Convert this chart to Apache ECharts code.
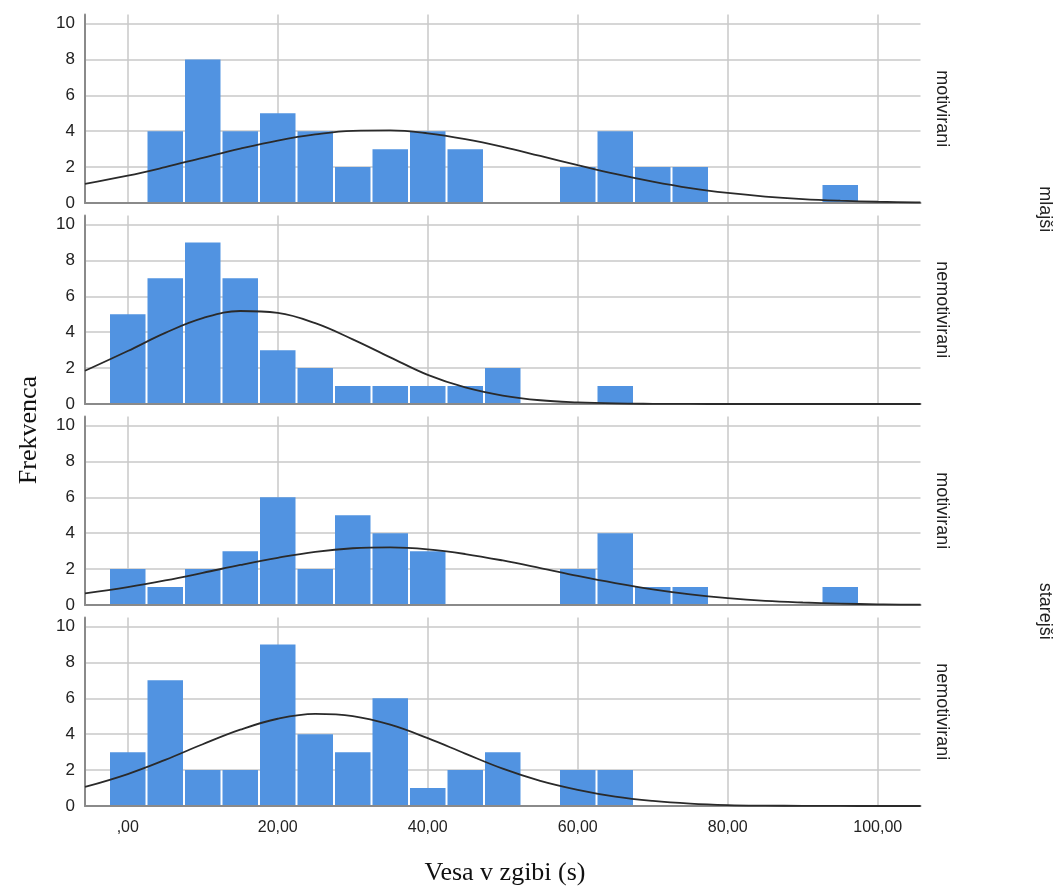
<!DOCTYPE html>
<html>
<head>
<meta charset="utf-8">
<script src="https://cdn.jsdelivr.net/npm/echarts@6/dist/echarts.min.js"></script>
<style>
html,body{margin:0;padding:0;background:#fff;}
#chart{width:1063px;height:891px;}
</style>
</head>
<body>
<div id="chart"></div>
<script>
// Bin centres (width 5)
const binCenters = [0,5,10,15,20,25,30,35,40,45,50,55,60,65,70,75,80,85,90,95,100];
// Frequencies per panel
const countsMlajsiMot    = [0,4,8,4,5,4,2,3,4,3,0,0,2,4,2,2,0,0,0,1,0];
const countsMlajsiNemot  = [5,7,9,7,3,2,1,1,1,1,2,0,0,1,0,0,0,0,0,0,0];
const countsStarejsiMot  = [2,1,2,3,6,2,5,4,3,0,0,0,2,4,1,1,0,0,0,1,0];
const countsStarejsiNemot= [3,7,2,2,9,4,3,6,1,2,3,0,2,2,0,0,0,0,0,0,0];
// Normal curve heights read at these x positions
const curveX = [-5.7,0,5,10,15,20,25,30,35,40,45,50,55,60,65,70,75,80,85,90,95,100,105,105.7];
const curveMlajsiMot    = [1.06,1.52,2.00,2.52,3.03,3.48,3.82,4.02,4.04,3.88,3.56,3.13,2.62,2.11,1.62,1.19,0.83,0.56,0.36,0.22,0.13,0.07,0.04,0.035];
const curveMlajsiNemot  = [1.85,2.95,3.96,4.78,5.18,5.07,4.50,3.60,2.60,1.62,0.92,0.47,0.21,0.09,0.03,0.01,0.003,0,0,0,0,0,0,0];
const curveStarejsiMot  = [0.65,1.00,1.37,1.79,2.23,2.63,2.96,3.16,3.21,3.10,2.84,2.48,2.06,1.62,1.22,0.87,0.59,0.38,0.23,0.14,0.08,0.04,0.02,0.02];
const curveStarejsiNemot= [1.06,1.78,2.57,3.44,4.25,4.86,5.13,5.01,4.53,3.78,2.92,2.08,1.40,0.90,0.52,0.28,0.13,0.05,0.02,0.01,0.003,0,0,0];
// Labels
const panelLabels = ['motivirani','nemotivirani','motivirani','nemotivirani'];
const groupLabels = ['mlajši','starejši'];
const xTitle = 'Vesa v zgibi (s)';
const yTitle = 'Frekvenca';
const yTicks = [0,2,4,6,8,10];

const panels = [
  {counts: countsMlajsiMot, curve: curveMlajsiMot},
  {counts: countsMlajsiNemot, curve: curveMlajsiNemot},
  {counts: countsStarejsiMot, curve: curveStarejsiMot},
  {counts: countsStarejsiNemot, curve: curveStarejsiNemot}
];

const tops = [14.5, 215.5, 416.5, 617.5];
const gridH = 188.5;
const gridLeft = 85, gridRight = 142.5;
const sans = '"Liberation Sans", Arial, sans-serif';
const serif = '"Liberation Serif", "Times New Roman", serif';

const grids = [], xAxes = [], yAxes = [], series = [], graphics = [];
panels.forEach((p, i) => {
  grids.push({left: gridLeft, right: gridRight, top: tops[i], height: gridH});
  xAxes.push({
    type: 'value', gridIndex: i, min: -5.7, max: 105.7, splitNumber: 5,
    axisLine: {show: true, onZero: false, lineStyle: {color: '#8a8a8a', width: 2}},
    axisTick: {show: false},
    axisLabel: {
      show: i === 3, showMinLabel: false, showMaxLabel: false,
      color: '#222', fontSize: 16, fontFamily: sans, margin: 14,
      formatter: v => v === 0 ? ',00' : v.toFixed(2).replace('.', ',')
    },
    splitLine: {show: true, showMinLine: false, showMaxLine: false, lineStyle: {color: '#c9c9c9', width: 1.5}}
  });
  yAxes.push({
    type: 'value', gridIndex: i, min: 0, max: 10.5, interval: 2,
    axisLine: {show: true, onZero: false, lineStyle: {color: '#8a8a8a', width: 2}},
    axisTick: {show: false},
    axisLabel: {color: '#222', fontSize: 17, fontFamily: sans, margin: 10, showMaxLabel: false,
      formatter: v => yTicks.includes(v) ? String(v) : ''},
    splitLine: {show: true, showMaxLine: false, lineStyle: {color: '#c9c9c9', width: 1.5}}
  });
  series.push({
    type: 'custom', xAxisIndex: i, yAxisIndex: i, z: 3,
    data: binCenters.map((c, k) => [c, p.counts[k]]).filter(d => d[1] > 0),
    renderItem: (params, api) => {
      const c = api.value(0), v = api.value(1);
      const p0 = api.coord([c - 2.5, v]);
      const p1 = api.coord([c + 2.5, 0]);
      return {
        type: 'rect',
        shape: {x: p0[0] + 1, y: p0[1], width: p1[0] - p0[0] - 2, height: p1[1] - p0[1] - 1},
        style: {fill: '#5193e1'}
      };
    }
  });
  series.push({
    type: 'line', xAxisIndex: i, yAxisIndex: i, z: 5,
    data: curveX.map((x, k) => [x, p.curve[k]]),
    smooth: 0.4, showSymbol: false, silent: true,
    lineStyle: {color: '#2a2a2a', width: 1.8}
  });
  graphics.push({
    type: 'text', x: 942, y: tops[i] + gridH / 2, rotation: -Math.PI / 2,
    style: {text: panelLabels[i], font: '18px ' + sans, fill: '#222', textAlign: 'center', textVerticalAlign: 'middle'}
  });
});

const centers12 = (tops[0] + tops[1] + gridH) / 2;
const centers34 = (tops[2] + tops[3] + gridH) / 2;
graphics.push({type: 'text', x: 1045, y: centers12, rotation: -Math.PI / 2,
  style: {text: groupLabels[0], font: '18px ' + sans, fill: '#222', textAlign: 'center', textVerticalAlign: 'middle'}});
graphics.push({type: 'text', x: 1045, y: centers34, rotation: -Math.PI / 2,
  style: {text: groupLabels[1], font: '18px ' + sans, fill: '#222', textAlign: 'center', textVerticalAlign: 'middle'}});
graphics.push({type: 'text', x: 29, y: 430, rotation: Math.PI / 2,
  style: {text: yTitle, font: '26px ' + serif, fill: '#111', textAlign: 'center', textVerticalAlign: 'middle'}});
graphics.push({type: 'text', x: 505, y: 873,
  style: {text: xTitle, font: '26px ' + serif, fill: '#111', textAlign: 'center', textVerticalAlign: 'middle'}});

const chart = echarts.init(document.getElementById('chart'), null, {renderer: 'canvas'});
chart.setOption({
  animation: false,
  backgroundColor: '#fff',
  grid: grids, xAxis: xAxes, yAxis: yAxes, series: series,
  graphic: {elements: graphics}
});
</script>
</body>
</html>
